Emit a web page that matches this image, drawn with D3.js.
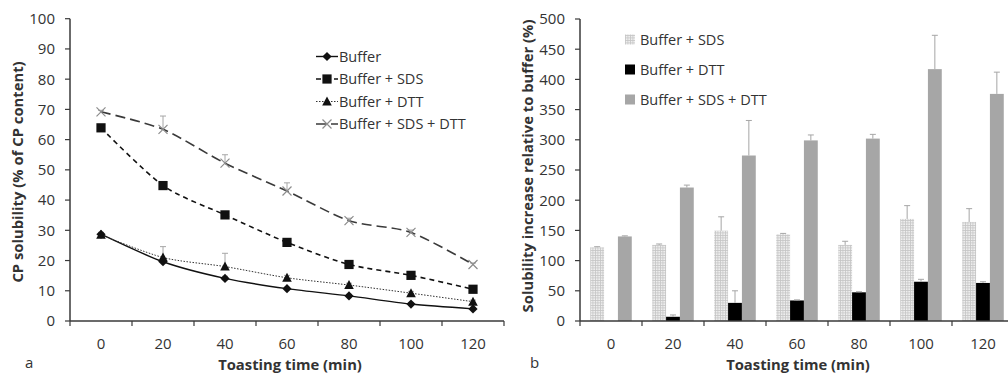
<!DOCTYPE html>
<html>
<head>
<meta charset="utf-8">
<script src="https://cdn.jsdelivr.net/npm/d3@7"></script>
<style>
  body { margin: 0; background: #fff; }
  svg { display: block; font-family: 'Open Sans', sans-serif; }
</style>
</head>
<body>
<svg id="chart" width="1008" height="373"></svg>
<script>
// Toasting times (min)
const times = ["0", "20", "40", "60", "80", "100", "120"];

// Panel a: CP solubility (% of CP content), mean and upper error
const buffer          = [28.7, 19.6, 14.1, 10.7, 8.3, 5.6, 4.0];
const bufferErr       = [0.6, 0.8, 0.7, 0.5, 0.5, 0.4, 0.4];
const bufferSds       = [63.9, 44.8, 35.1, 26.0, 18.7, 15.1, 10.5];
const bufferSdsErr    = [0.6, 0.8, 0.7, 0.6, 0.6, 0.5, 0.5];
const bufferDtt       = [28.5, 21.0, 18.0, 14.3, 11.9, 9.2, 6.4];
const bufferDttErr    = [0.8, 3.6, 4.4, 0.8, 0.6, 0.6, 0.5];
const bufferSdsDtt    = [69.2, 63.4, 52.2, 43.0, 33.2, 29.3, 18.7];
const bufferSdsDttErr = [0.5, 4.4, 2.8, 2.7, 0.8, 0.8, 0.5];
const ticksA = [0, 10, 20, 30, 40, 50, 60, 70, 80, 90, 100];

// Panel b: solubility increase relative to buffer (%)
const incSds       = [122, 126, 149.5, 143.5, 126, 169, 164];
const incSdsErr    = [1, 1.5, 23, 1.5, 6, 22, 22];
const incDtt       = [0, 7, 30, 34, 47.5, 65, 63];
const incDttErr    = [0, 3, 20, 1, 1, 4, 2];
const incSdsDtt    = [140, 221, 274, 299, 302, 417, 376];
const incSdsDttErr = [1, 4, 58, 9, 7, 56, 36];
const ticksB = [0, 50, 100, 150, 200, 250, 300, 350, 400, 450, 500];

const svg = d3.select("#chart");
const axisColor = "#3a3a3a";
const textColor = "#333";
const errColor = "#a6a6a6";
const tickFont = 15;
const legendFont = 14.5;
const titleFont = 14.8;

// hatch fill for Buffer + SDS bars
const defs = svg.append("defs");
const pat = defs.append("pattern")
  .attr("id", "grid").attr("patternUnits", "userSpaceOnUse")
  .attr("width", 2.5).attr("height", 2.5);
pat.append("rect").attr("width", 2.5).attr("height", 2.5).attr("fill", "#eeeeee");
pat.append("path").attr("d", "M0,0.4H2.5M0.4,0V2.5")
  .attr("stroke", "#c4c4c4").attr("stroke-width", 0.8);

function drawYAxis(g, y, x0, ticks) {
  g.append("line").attr("x1", x0).attr("x2", x0)
    .attr("y1", y(ticks[0])).attr("y2", y(ticks[ticks.length - 1]))
    .attr("stroke", axisColor).attr("stroke-width", 1.5);
  ticks.forEach(t => {
    g.append("line").attr("x1", x0 - 5).attr("x2", x0)
      .attr("y1", y(t)).attr("y2", y(t))
      .attr("stroke", axisColor).attr("stroke-width", 1.2);
    g.append("text").attr("x", x0 - 15).attr("y", y(t))
      .attr("dy", "0.36em").attr("text-anchor", "end")
      .attr("font-size", tickFont).attr("fill", textColor).text(t);
  });
}

function drawXAxis(g, x, yPos) {
  const [r0, r1] = x.range();
  g.append("line").attr("x1", r0).attr("x2", r1)
    .attr("y1", yPos).attr("y2", yPos)
    .attr("stroke", axisColor).attr("stroke-width", 1.5);
  const bounds = x.domain().map(d => x(d) - x.step() * x.paddingInner() / 2);
  bounds.push(r1);
  bounds.forEach(b => {
    g.append("line").attr("x1", b).attr("x2", b)
      .attr("y1", yPos).attr("y2", yPos + 5)
      .attr("stroke", axisColor).attr("stroke-width", 1.2);
  });
  x.domain().forEach(d => {
    g.append("text").attr("x", x(d) + x.bandwidth() / 2).attr("y", yPos + 27.5)
      .attr("text-anchor", "middle").attr("font-size", tickFont)
      .attr("fill", textColor).text(d);
  });
}

// ---------------- Panel a ----------------
const ga = svg.append("g");
const xa = d3.scaleBand().domain(times).range([70, 504]).padding(0);
const ya = d3.scaleLinear().domain([0, 100]).range([321, 18.7]);
const cx = d => xa(d) + xa.bandwidth() / 2;

const seriesA = [
  { name: "Buffer", vals: buffer, err: bufferErr, dash: null, stroke: "#111", width: 1.4, marker: "diamond" },
  { name: "Buffer + SDS", vals: bufferSds, err: bufferSdsErr, dash: "5,4", stroke: "#111", width: 1.6, marker: "square" },
  { name: "Buffer + DTT", vals: bufferDtt, err: bufferDttErr, dash: "1.5,1.5", stroke: "#333", width: 1, marker: "triangle" },
  { name: "Buffer + SDS + DTT", vals: bufferSdsDtt, err: bufferSdsDttErr, dash: "10,5", stroke: "#3a3a3a", width: 1.6, marker: "cross" }
];

function drawMarker(g, type, x, y) {
  const m = g.append("path").attr("transform", `translate(${x},${y})`);
  if (type === "diamond") {
    m.attr("d", "M0,-4.6L4.6,0L0,4.6L-4.6,0Z").attr("fill", "#111");
  } else if (type === "square") {
    m.attr("d", d3.symbol(d3.symbolSquare, 85)()).attr("fill", "#111");
  } else if (type === "triangle") {
    m.attr("d", "M0,-5L4.8,4L-4.8,4Z").attr("fill", "#111");
  } else {
    m.attr("d", "M-4.5,-4.5L4.5,4.5M-4.5,4.5L4.5,-4.5")
      .attr("stroke", "#8c8c8c").attr("stroke-width", 1.2).attr("fill", "none");
  }
}

drawYAxis(ga, ya, 70, ticksA);
drawXAxis(ga, xa, 321);

// error bars (upper only)
seriesA.forEach(s => {
  s.vals.forEach((v, i) => {
    const x = cx(times[i]);
    const top = ya(v + s.err[i]);
    ga.append("line").attr("x1", x).attr("x2", x).attr("y1", ya(v)).attr("y2", top)
      .attr("stroke", errColor).attr("stroke-width", 1);
    ga.append("line").attr("x1", x - 3).attr("x2", x + 3).attr("y1", top).attr("y2", top)
      .attr("stroke", errColor).attr("stroke-width", 1);
  });
});

const lineGen = d3.line().curve(d3.curveCardinal.tension(0.2));
seriesA.forEach(s => {
  const pts = s.vals.map((v, i) => [cx(times[i]), ya(v)]);
  ga.append("path").attr("d", lineGen(pts)).attr("fill", "none")
    .attr("stroke", s.stroke).attr("stroke-width", s.width)
    .attr("stroke-dasharray", s.dash);
});
seriesA.forEach(s => {
  s.vals.forEach((v, i) => drawMarker(ga, s.marker, cx(times[i]), ya(v)));
});

// legend a
seriesA.forEach((s, i) => {
  const ly = 56.5 + i * 22.5;
  ga.append("line").attr("x1", 316).attr("x2", 338).attr("y1", ly).attr("y2", ly)
    .attr("stroke", s.stroke).attr("stroke-width", s.width)
    .attr("stroke-dasharray", s.dash);
  drawMarker(ga, s.marker, 327, ly);
  ga.append("text").attr("x", 339).attr("y", ly).attr("dy", "0.36em")
    .attr("font-size", legendFont).attr("fill", textColor).text(s.name);
});

ga.append("text").attr("transform", "translate(23,172) rotate(-90)")
  .attr("text-anchor", "middle").attr("font-size", titleFont).attr("font-weight", "bold")
  .attr("fill", textColor).text("CP solubility (% of CP content)");
ga.append("text").attr("x", 290).attr("y", 369.5).attr("text-anchor", "middle")
  .attr("font-size", titleFont).attr("font-weight", "bold").attr("fill", textColor)
  .text("Toasting time (min)");
ga.append("text").attr("x", 25).attr("y", 368).attr("font-size", 15)
  .attr("fill", textColor).text("a");

// ---------------- Panel b ----------------
const gb = svg.append("g");
const xb = d3.scaleBand().domain(times).range([580, 1014])
  .paddingInner(0.33).paddingOuter(0.165);
const yb = d3.scaleLinear().domain([0, 500]).range([321, 19]);

const seriesB = [
  { name: "Buffer + SDS", vals: incSds, err: incSdsErr, fill: "url(#grid)" },
  { name: "Buffer + DTT", vals: incDtt, err: incDttErr, fill: "#000" },
  { name: "Buffer + SDS + DTT", vals: incSdsDtt, err: incSdsDttErr, fill: "#a6a6a6" }
];
const xs = d3.scaleBand().domain(seriesB.map(s => s.name)).range([0, xb.bandwidth()]);

drawYAxis(gb, yb, 580, ticksB);

seriesB.forEach(s => {
  s.vals.forEach((v, i) => {
    if (v <= 0) return;
    const x = xb(times[i]) + xs(s.name);
    gb.append("rect").attr("x", x).attr("width", xs.bandwidth())
      .attr("y", yb(v)).attr("height", yb(0) - yb(v)).attr("fill", s.fill);
    const mx = x + xs.bandwidth() / 2;
    const top = yb(v + s.err[i]);
    gb.append("line").attr("x1", mx).attr("x2", mx).attr("y1", yb(v)).attr("y2", top)
      .attr("stroke", errColor).attr("stroke-width", 1);
    gb.append("line").attr("x1", mx - 3).attr("x2", mx + 3).attr("y1", top).attr("y2", top)
      .attr("stroke", errColor).attr("stroke-width", 1);
  });
});

drawXAxis(gb, xb, 321);

// legend b
seriesB.forEach((s, i) => {
  const ly = 39.5 + i * 30;
  gb.append("rect").attr("x", 625).attr("y", ly - 5).attr("width", 10).attr("height", 10)
    .attr("fill", s.fill);
  gb.append("text").attr("x", 640).attr("y", ly).attr("dy", "0.36em")
    .attr("font-size", legendFont).attr("fill", textColor).text(s.name);
});

gb.append("text").attr("transform", "translate(533,166) rotate(-90)")
  .attr("text-anchor", "middle").attr("font-size", titleFont).attr("font-weight", "bold")
  .attr("fill", textColor).text("Solubility increase relative to buffer (%)");
gb.append("text").attr("x", 798).attr("y", 369.5).attr("text-anchor", "middle")
  .attr("font-size", titleFont).attr("font-weight", "bold").attr("fill", textColor)
  .text("Toasting time (min)");
gb.append("text").attr("x", 530).attr("y", 368).attr("font-size", 15)
  .attr("fill", textColor).text("b");
</script>
</body>
</html>
